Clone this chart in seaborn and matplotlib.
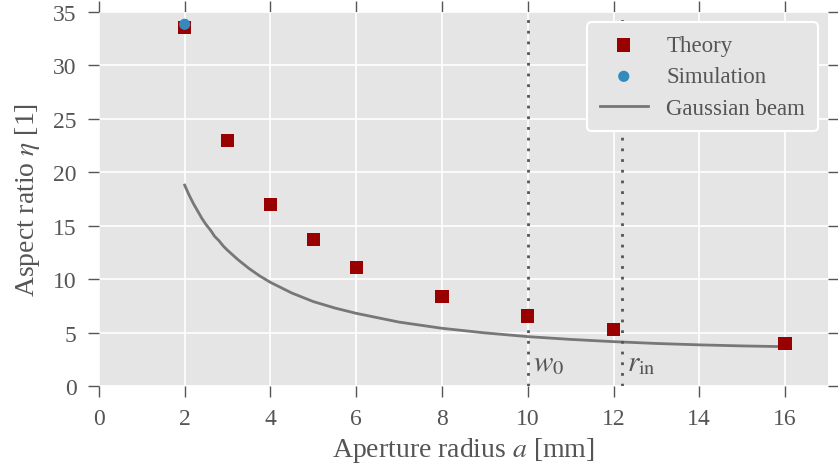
import numpy as np
import pandas as pd
import seaborn as sns
import matplotlib.pyplot as plt

# Values
theory_a = [2, 3, 4, 5, 6, 8, 10, 12, 16]
theory_eta = [33.55, 22.95, 17.0, 13.7, 11.1, 8.4, 6.55, 5.25, 4.0]

sim_a = [2]
sim_eta = [33.85]

gauss_a = [2, 2.1, 2.2, 2.3, 2.4, 2.5, 2.6, 2.7, 2.8, 2.9, 3, 3.25, 3.5, 3.75, 4,
           4.5, 5, 5.5, 6, 7, 8, 9, 10, 11, 12, 13, 14, 15, 16]
gauss_eta = [18.8, 17.9, 17.1, 16.4, 15.7, 15.1, 14.6, 14.0, 13.6, 13.1, 12.7, 11.8,
             11.0, 10.3, 9.7, 8.7, 7.9, 7.3, 6.8, 5.98, 5.4, 4.97, 4.62, 4.36, 4.15,
             3.98, 3.85, 3.75, 3.68]

w0 = 10.0
r_in = 12.2

theory = pd.DataFrame({'a': theory_a, 'eta': theory_eta})
sim = pd.DataFrame({'a': sim_a, 'eta': sim_eta})
gauss = pd.DataFrame({'a': gauss_a, 'eta': gauss_eta})

plt.style.use('ggplot')
sns.set_style({'axes.facecolor': '#E5E5E5', 'grid.color': 'white'})
plt.rcParams['font.family'] = ['Liberation Serif', 'DejaVu Serif']
plt.rcParams['mathtext.fontset'] = 'stix'

fig = plt.figure(figsize=(8.38, 4.77), dpi=100)
ax = fig.add_axes([0.118, 0.1887, 0.870, 0.784])

sns.scatterplot(data=theory, x='a', y='eta', marker='s', s=90, color='#990000',
                edgecolor='none', label='Theory', ax=ax, zorder=3)
sns.scatterplot(data=sim, x='a', y='eta', marker='o', s=65, color='#348ABD',
                edgecolor='none', label='Simulation', ax=ax, zorder=4)
sns.lineplot(data=gauss, x='a', y='eta', color='#777777', lw=2, label='Gaussian beam',
             ax=ax, zorder=2)

for xv in (w0, r_in):
    ax.axvline(xv, color='#555555', ls=(0, (1, 2.85)), lw=2, zorder=2)
ax.text(w0 + 0.12, 2.1, r'$w_0$', fontsize=21, color='#555555', va='center')
ax.text(r_in + 0.12, 2.1, r'$r_{\mathrm{in}}$', fontsize=21, color='#555555', va='center')

ax.set_xlim(0, 17)
ax.set_ylim(0, 35)
ax.set_xticks(range(0, 17, 2))
ax.set_yticks(range(0, 36, 5))
ax.tick_params(axis='both', which='major', direction='out', length=8, width=1,
               color='#555555', labelcolor='#555555', labelsize=17, pad=8,
               top=True, right=True)
ax.grid(True, color='white', lw=1.2)
for s in ax.spines.values():
    s.set_visible(False)

ax.set_xlabel(r'Aperture radius $a$ [mm]', fontsize=20, color='#555555', labelpad=4)
ax.set_ylabel(r'Aspect ratio $\eta$ [1]', fontsize=20, color='#555555', labelpad=8)

leg = ax.legend(loc='upper right', fontsize=16.5, frameon=True, facecolor='#E5E5E5',
                edgecolor='white', framealpha=1, borderaxespad=0.45, borderpad=0.55,
                labelspacing=0.45, handlelength=2.1, handletextpad=0.8,
                markerscale=1.0)
for t in leg.get_texts():
    t.set_color('#555555')
leg.get_frame().set_linewidth(1.5)
leg.set_zorder(5)

fig.savefig('out.png', dpi=100)
